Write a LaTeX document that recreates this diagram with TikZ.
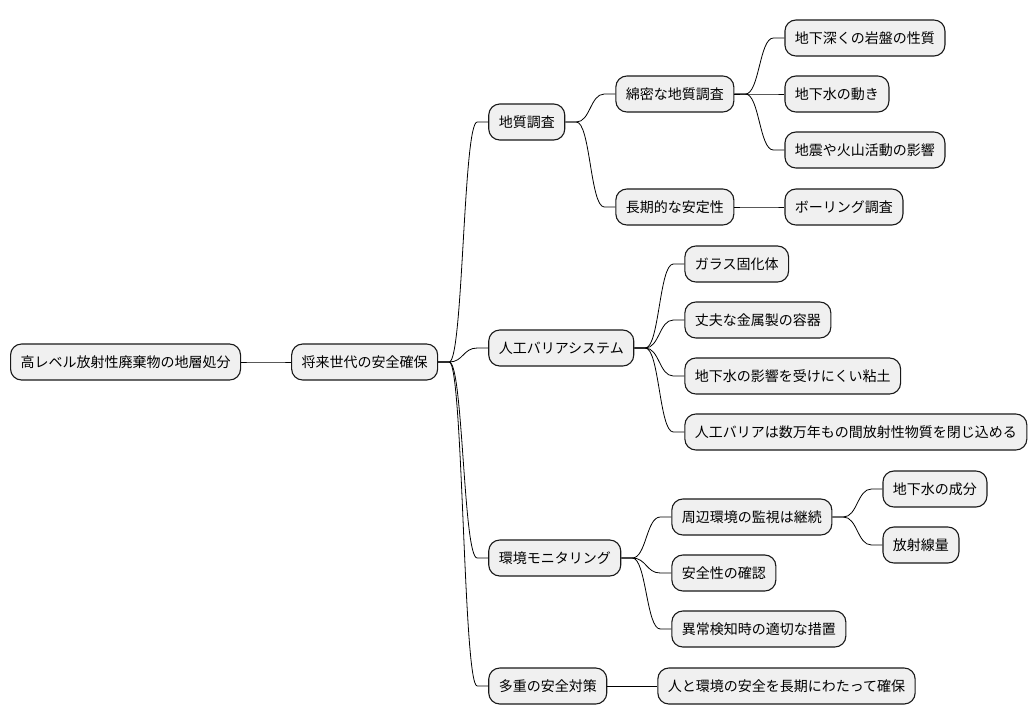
\documentclass[tikz,border=0pt]{standalone}
\usepackage{fontspec}
\newfontfamily\jpfont{Noto Sans CJK JP}
\usetikzlibrary{positioning}

\begin{document}
\begin{tikzpicture}[
      x=1pt, y=-1pt,
      font=\jpfont\fontsize{14pt}{17pt}\selectfont,
      topic/.style={draw=black!90, line width=1.1pt, fill=black!6, rounded corners=11pt,
                    minimum height=36pt, inner xsep=10pt, inner ysep=0pt, anchor=west},
      branch/.style={line width=0.8pt},
      node distance=0pt and 50pt
    ]
    \useasboundingbox (0,0) rectangle (1034,724);

    \node[topic] (root) at (10,362) {高レベル放射性廃棄物の地層処分};
    \node[topic, right=of root] (safe) {将来世代の安全確保};

    % geology
    \node[topic, right=of safe, yshift=240pt] (geo) {地質調査};
    \node[topic, right=of geo, yshift=28pt]  (geoA) {綿密な地質調査};
    \node[topic, right=of geoA, yshift=56pt] (geoA1) {地下深くの岩盤の性質};
    \node[topic, right=of geoA]              (geoA2) {地下水の動き};
    \node[topic, right=of geoA, yshift=-56pt] (geoA3) {地震や火山活動の影響};
    \node[topic, right=of geo, yshift=-85pt] (geoB) {長期的な安定性};
    \node[topic, right=of geoB]              (geoB1) {ボーリング調査};

    % barrier
    \node[topic, right=of safe, yshift=14pt] (bar) {人工バリアシステム};
    \node[topic, right=of bar, yshift=84pt]  (bar1) {ガラス固化体};
    \node[topic, right=of bar, yshift=28pt]  (bar2) {丈夫な金属製の容器};
    \node[topic, right=of bar, yshift=-28pt] (bar3) {地下水の影響を受けにくい粘土};
    \node[topic, right=of bar, yshift=-84pt] (bar4) {人工バリアは数万年もの間放射性物質を閉じ込める};

    % monitoring
    \node[topic, right=of safe, yshift=-196pt] (mon) {環境モニタリング};
    \node[topic, right=of mon, yshift=41pt]   (monA) {周辺環境の監視は継続};
    \node[topic, right=of monA, yshift=28pt]  (monA1) {地下水の成分};
    \node[topic, right=of monA, yshift=-28pt] (monA2) {放射線量};
    \node[topic, right=of mon, yshift=-15pt]  (monB) {安全性の確認};
    \node[topic, right=of mon, yshift=-71pt]  (monC) {異常検知時の適切な措置};

    % safety
    \node[topic, right=of safe, yshift=-324pt] (multi) {多重の安全対策};
    \node[topic, right=of multi]               (multi1) {人と環境の安全を長期にわたって確保};

    \foreach \a/\b in {root/safe, safe/geo, safe/bar, safe/mon, safe/multi,
                       geo/geoA, geo/geoB, geoA/geoA1, geoA/geoA2, geoA/geoA3, geoB/geoB1,
                       bar/bar1, bar/bar2, bar/bar3, bar/bar4,
                       mon/monA, mon/monB, mon/monC, monA/monA1, monA/monA2, multi/multi1}
      \draw[branch] (\a.east) -- ++(11pt,0) .. controls +(14pt,0) and +(-14pt,0)
                    .. ([xshift=-11pt]\b.west) -- (\b.west);
  \end{tikzpicture}
\end{document}
